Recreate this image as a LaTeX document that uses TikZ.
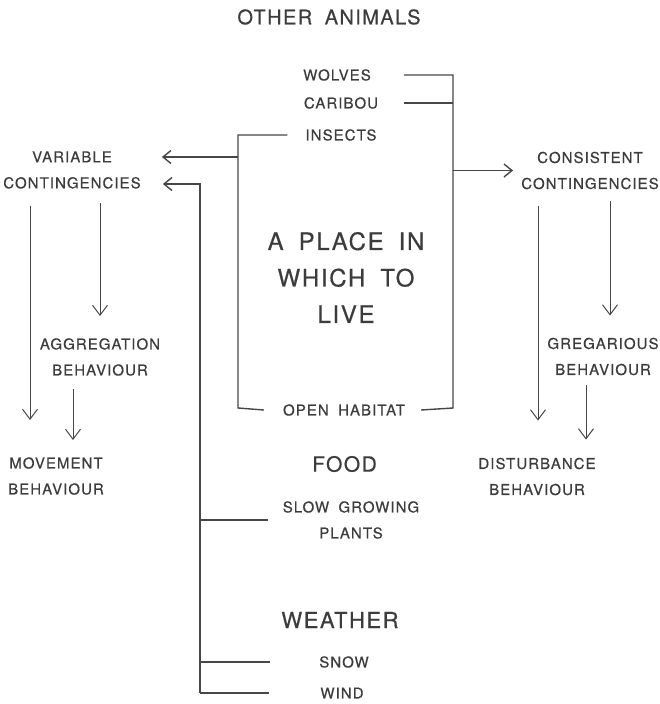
\documentclass[tikz,border=0pt]{standalone}
\usepackage{fontspec}
\setmainfont{TeX Gyre Heros}[LetterSpace=7,WordSpace=1.8,FakeBold=0.5]
\usetikzlibrary{arrows.meta}
\definecolor{ink}{HTML}{3C3C3C}
\definecolor{rule}{HTML}{474747}

\begin{document}
\begin{tikzpicture}[
  x=1pt, y=-1pt,
  caps/.style={inner sep=0pt, align=center, text=ink,
               font=\fontsize{15}{26}\selectfont},
  heading/.style={inner sep=0pt, align=center, text=ink,
                  font=\fontsize{21}{24}\selectfont},
  core/.style={inner sep=0pt, align=center, text=ink,
               font=\fontsize{24}{36.5}\selectfont},
  link/.style={draw=rule, line width=1.4pt},
  push/.style={link, -{Straight Barb[length=8pt,width=13pt]}},
  leads/.style={draw=rule, line width=1pt, -{Straight Barb[length=10pt,width=15pt]}},
]

\useasboundingbox (0,0) rectangle (660,704);

% the place itself
\node[heading, font=\fontsize{20}{24}\selectfont] (others) at (329,17) {OTHER ANIMALS};
\node[caps] (wolves) at (337,75) {WOLVES};
\node[caps] (caribou) at (341,103) {CARIBOU};
\node[caps] (insects) at (341,135) {INSECTS};
\node[core] (place) at (346,277.5) {A PLACE IN\\WHICH TO\\LIVE};
\node[caps] (habitat) at (344,410) {OPEN HABITAT};
\node[heading] (food) at (344.5,464) {FOOD};
\node[caps] (plants) at (351,520) {SLOW GROWING\\PLANTS};
\node[heading, font=\fontsize{22}{24}\selectfont] (weather) at (340,620) {WEATHER};
\node[caps] (snow) at (344,662) {SNOW};
\node[caps] (wind) at (342,693) {WIND};

% contingencies and behaviour
\node[caps] (variable) at (72,170) {VARIABLE\\CONTINGENCIES};
\node[caps] (aggregation) at (100,357) {AGGREGATION\\BEHAVIOUR};
\node[caps] (movement) at (56,476) {MOVEMENT\\BEHAVIOUR};
\node[caps] (consistent) at (590,170.5) {CONSISTENT\\CONTINGENCIES};
\node[caps] (gregarious) at (603,356.5) {GREGARIOUS\\BEHAVIOUR};
\node[caps] (disturbance) at (537,476.5) {DISTURBANCE\\BEHAVIOUR};

\coordinate (habL) at (238,408);
\coordinate (habR) at (453,408);
\coordinate (spine) at (200,693);
\path ([xshift=21pt,yshift=13pt]variable.east) coordinate (varTop)
      ([xshift=22pt,yshift=-14pt]variable.east) coordinate (varLow);

% brackets
\draw[link] ([xshift=33pt]wolves.east) -| (habR) -- ([xshift=16pt]habitat.east);
\draw[link] ([xshift=26pt]caribou.east) -- (caribou.east -| habR);
\draw[link] ([xshift=-18pt]insects.west) -| (habL) -- ([xshift=-19pt]habitat.west);
\draw[push] (consistent.west -| habR) -- ([xshift=-8pt]consistent.west);
\draw[push] (habL |- varTop) -- (varTop);
\draw[push] (spine) |- (varLow);
\draw[link] (spine |- plants) -- ([xshift=-15pt]plants.west);
\draw[link] (spine |- snow) -- ([xshift=-49pt]snow.west);
\draw[link] (spine) -- ([xshift=-51pt]wind.west);

% behaviour arrows
\draw[leads] ([xshift=-42pt,yshift=-17pt]variable.south) -- ([xshift=-26pt,yshift=37pt]movement.north);
\draw[leads] ([xshift=28pt,yshift=-14pt]variable.south) -- ([yshift=22pt]aggregation.north);
\draw[leads] ([xshift=-27pt,yshift=-13pt]aggregation.south) -- ([xshift=17pt,yshift=17pt]movement.north);
\draw[leads] ([xshift=-52pt,yshift=-17pt]consistent.south) -- ([xshift=1pt,yshift=37pt]disturbance.north);
\draw[leads] ([xshift=20pt,yshift=-12pt]consistent.south) -- ([xshift=7pt,yshift=22pt]gregarious.north);
\draw[leads] ([xshift=-17pt,yshift=-10pt]gregarious.south) -- ([xshift=49pt,yshift=18pt]disturbance.north);

\end{tikzpicture}
\end{document}
